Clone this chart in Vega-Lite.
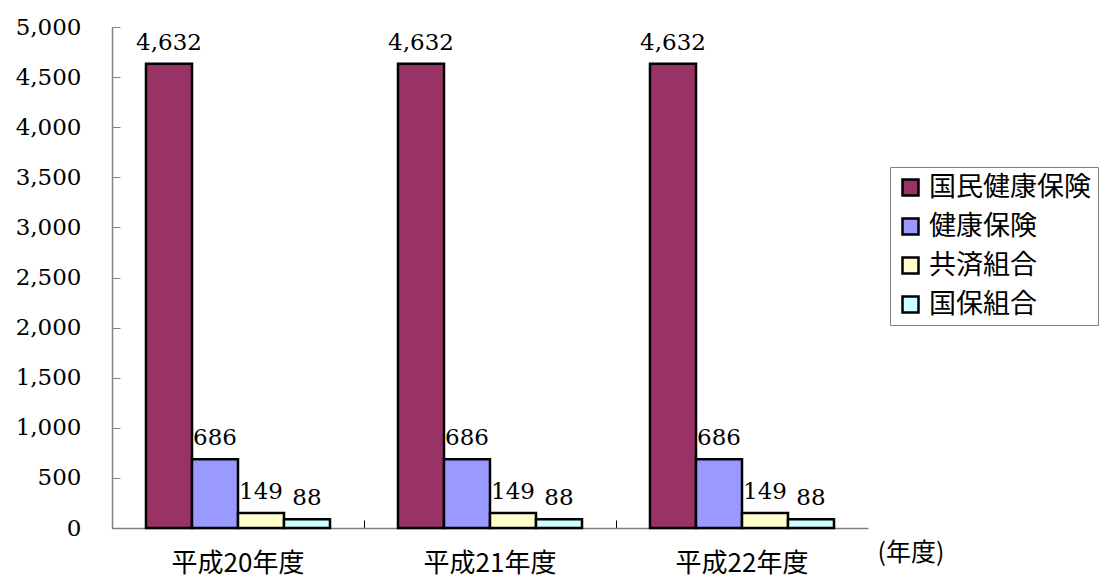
{
  "$schema": "https://vega.github.io/schema/vega-lite/v6.json",
  "autosize": "none",
  "padding": {"left": 112, "top": 27, "right": 236, "bottom": 52},
  "width": 756,
  "height": 501,
  "background": "white",
  "config": {"view": {"stroke": null}},
  "data": {
    "values": [
      {"year": "平成20年度", "type": "国民健康保険", "value": 4632},
      {"year": "平成20年度", "type": "健康保険", "value": 686},
      {"year": "平成20年度", "type": "共済組合", "value": 149},
      {"year": "平成20年度", "type": "国保組合", "value": 88},
      {"year": "平成21年度", "type": "国民健康保険", "value": 4632},
      {"year": "平成21年度", "type": "健康保険", "value": 686},
      {"year": "平成21年度", "type": "共済組合", "value": 149},
      {"year": "平成21年度", "type": "国保組合", "value": 88},
      {"year": "平成22年度", "type": "国民健康保険", "value": 4632},
      {"year": "平成22年度", "type": "健康保険", "value": 686},
      {"year": "平成22年度", "type": "共済組合", "value": 149},
      {"year": "平成22年度", "type": "国保組合", "value": 88}
    ]
  },
  "encoding": {
    "x": {
      "field": "year", "type": "nominal", "sort": null,
      "scale": {"paddingInner": 0, "paddingOuter": 0},
      "axis": {
        "title": "(年度)",
        "titleFont": "Noto Sans CJK JP", "titleFontSize": 25, "titleFontWeight": "normal", "titleColor": "black",
        "titleAlign": "left", "titleBaseline": "middle", "titleX": 765, "titleY": 24, "titleAnchor": null,
        "labelAngle": 0, "labelFont": "Noto Sans CJK JP", "labelFontSize": 26, "labelColor": "black",
        "labelPadding": 43, "labelBaseline": "middle",
        "bandPosition": 0, "tickSize": -8, "tickColor": "black", "tickWidth": 1,
        "domainColor": "#808080", "domainWidth": 1.5
      }
    },
    "xOffset": {
      "field": "type", "type": "nominal",
      "sort": ["国民健康保険", "健康保険", "共済組合", "国保組合"],
      "scale": {"paddingInner": 0, "paddingOuter": 0.739}
    },
    "y": {
      "field": "value", "type": "quantitative",
      "scale": {"domain": [0, 5000], "nice": false},
      "axis": {
        "title": null, "values": [0, 500, 1000, 1500, 2000, 2500, 3000, 3500, 4000, 4500, 5000],
        "format": ",.0f", "grid": false,
        "labelFont": "DejaVu Serif", "labelFontSize": 23, "labelColor": "black", "labelPadding": 39,
        "tickSize": -8, "tickColor": "#808080", "tickWidth": 1,
        "domainColor": "#808080", "domainWidth": 1.5
      }
    }
  },
  "layer": [
    {
      "mark": {"type": "bar", "stroke": "black", "strokeWidth": 2.5},
      "encoding": {
        "color": {
          "field": "type", "type": "nominal",
          "sort": ["国民健康保険", "健康保険", "共済組合", "国保組合"],
          "scale": {
            "domain": ["国民健康保険", "健康保険", "共済組合", "国保組合"],
            "range": ["#993366", "#9999FF", "#FFFFCC", "#CCFFFF"]
          },
          "legend": {
            "title": null, "orient": "none", "legendX": 778, "legendY": 140,
            "strokeColor": "#808080", "fillColor": "white", "padding": 7,
            "symbolType": "square", "symbolSize": 256, "symbolStrokeColor": "black", "symbolStrokeWidth": 2.5,
            "symbolOpacity": 1,
            "labelFont": "Noto Sans CJK JP", "labelFontSize": 27, "labelColor": "black", "labelOffset": 5,
            "rowPadding": 11, "labelLimit": 300
          }
        }
      }
    },
    {
      "mark": {"type": "text", "font": "DejaVu Serif", "fontSize": 23, "color": "black", "baseline": "alphabetic", "dy": -14},
      "encoding": {
        "text": {"field": "value", "type": "quantitative", "format": ",.0f"}
      }
    }
  ]
}
